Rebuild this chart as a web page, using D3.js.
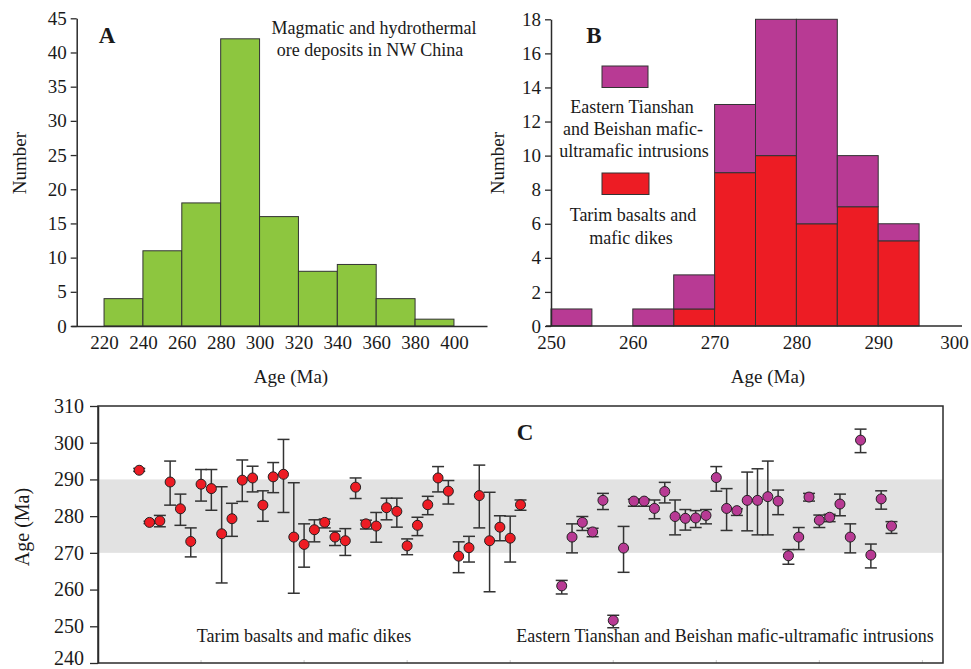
<!DOCTYPE html>
<html><head><meta charset="utf-8">
<script src="https://cdn.jsdelivr.net/npm/d3@7"></script>
<style>
html,body{margin:0;padding:0;background:#fff;}
svg{display:block;font-family:"Liberation Serif","Times New Roman",serif;}
</style></head>
<body>
<svg id="c" width="971" height="669"></svg>
<script>
// ---------- Data ----------
// Panel A: histogram of ore deposit ages
const binsA = [220, 240, 260, 280, 300, 320, 340, 360, 380];
const countsA = [4, 11, 18, 42, 16, 8, 9, 4, 1];
const ticksAx = [220, 240, 260, 280, 300, 320, 340, 360, 380, 400];
const ticksAy = [0, 5, 10, 15, 20, 25, 30, 35, 40, 45];

// Panel B: stacked histogram (5 Ma bins)
const binsB = [250, 255, 260, 265, 270, 275, 280, 285, 290];
const tarimCounts = [0, 0, 0, 1, 9, 10, 6, 7, 5];
const easternCounts = [1, 0, 1, 2, 4, 8, 12, 3, 1];
const ticksBx = [250, 260, 270, 280, 290, 300];
const ticksBy = [0, 2, 4, 6, 8, 10, 12, 14, 16, 18];

// Panel C: individual ages with error bars
const tarimAge  = [292.5,278.3,278.7,289.3,282.0,273.1,288.7,287.5,275.2,279.3,289.8,290.4,283.0,290.7,291.4,274.3,272.3,276.3,278.3,274.3,273.3,287.9,277.9,277.3,282.3,281.3,271.9,277.5,283.1,290.4,286.8,269.1,271.4,285.6,273.3,277.0,274.0,283.1];
const tarimHigh = [293.0,278.6,280.2,295.0,286.0,276.8,292.7,292.7,288.0,283.5,295.3,293.6,286.9,294.6,300.9,289.1,277.9,279.0,279.2,275.9,276.6,290.4,278.9,281.0,284.9,284.9,273.8,279.7,285.4,293.5,289.7,273.0,274.5,293.9,286.5,280.1,280.0,284.4];
const tarimLow  = [292.2,278.0,277.1,283.0,277.5,268.9,284.1,281.6,261.8,274.5,284.0,286.6,278.6,286.4,281.0,259.0,266.1,273.0,276.8,272.0,269.3,284.8,276.5,272.9,279.0,277.0,269.5,274.7,280.4,286.6,283.3,264.6,267.5,276.8,259.4,273.3,267.5,281.6];

const eastAge  = [261.0,274.3,278.3,275.7,284.3,251.6,271.3,284.1,284.1,282.1,286.7,279.9,279.4,279.5,280.2,290.5,282.1,281.5,284.3,284.3,285.3,284.1,269.2,274.3,285.2,278.9,279.7,283.3,274.3,300.7,269.4,284.7,277.3];
const eastHigh = [262.5,277.9,279.9,276.7,286.2,253.0,277.2,284.6,284.6,284.4,289.2,284.4,281.8,281.5,281.8,293.5,287.5,282.0,292.0,292.9,295.0,287.1,270.9,276.9,286.2,280.3,280.5,286.0,277.9,303.7,272.4,286.9,278.5];
const eastLow  = [258.8,270.0,276.1,274.4,281.8,249.6,264.7,282.7,282.7,279.3,283.6,274.9,276.2,276.9,277.9,286.8,276.1,280.2,276.0,274.9,274.9,280.4,266.9,270.9,284.1,276.9,278.5,280.1,270.0,297.3,265.9,281.9,275.3];
const eastStart = 41; // sample index of first eastern point
const ticksCy = [240, 250, 260, 270, 280, 290, 300, 310];
const bandC = [270, 290];

// ---------- Styles ----------
const GREEN = "#8dc63f", PURPLE = "#b83a94", RED = "#ed1c24", AX = "#2b2b2b";
const svg = d3.select("#c");

function styleAxis(g, size) {
  g.selectAll("text").attr("font-family", '"Liberation Serif","Times New Roman",serif')
    .attr("font-size", size).attr("fill", "#1a1a1a");
  g.selectAll("line").attr("stroke", AX).attr("stroke-width", 1.3);
  g.selectAll("path.domain").attr("stroke", AX).attr("stroke-width", 1.5);
}
function txt(x, y, s, size, opts = {}) {
  const t = svg.append("text").attr("x", x).attr("y", y).text(s)
    .attr("font-size", size).attr("fill", "#1a1a1a")
    .attr("text-anchor", opts.anchor || "middle");
  if (opts.bold) t.attr("font-weight", "bold");
  if (opts.rotate) t.attr("transform", `rotate(-90,${x},${y})`);
  return t;
}

// ---------- Panel A ----------
const xA = d3.scaleLinear().domain([203, 417]).range([71, 487]);
const yA = d3.scaleLinear().domain([0, 45]).range([326, 18.3]);
svg.append("g").selectAll("rect").data(binsA).join("rect")
  .attr("x", d => xA(d)).attr("width", d => xA(d + 20) - xA(d))
  .attr("y", (d, i) => yA(countsA[i])).attr("height", (d, i) => yA(0) - yA(countsA[i]))
  .attr("fill", GREEN).attr("stroke", "#333").attr("stroke-width", 1);
const axAx = svg.append("g").attr("transform", "translate(0,326)")
  .call(d3.axisBottom(xA).tickValues(ticksAx).tickSize(0).tickSizeOuter(0).tickPadding(10).tickFormat(d3.format("d")));
styleAxis(axAx, 19);
const axAy = svg.append("g").attr("transform", "translate(76.7,0)")
  .call(d3.axisLeft(yA).tickValues(ticksAy).tickSize(6).tickSizeOuter(0).tickPadding(4));
styleAxis(axAy, 19);
txt(107, 43, "A", 23, {bold: true});
txt(374, 34, "Magmatic and hydrothermal", 18);
txt(370, 56, "ore deposits in NW China", 18);
txt(26, 163, "Number", 19, {rotate: true});
txt(291, 383, "Age (Ma)", 19);

// ---------- Panel B ----------
const xB = d3.scaleLinear().domain([250, 300]).range([551, 960]);
const yB = d3.scaleLinear().domain([0, 18]).range([326, 19.3]);
const gB = svg.append("g");
gB.selectAll("rect.r").data(binsB).join("rect").attr("class", "r")
  .attr("x", d => xB(d)).attr("width", d => xB(d + 5) - xB(d))
  .attr("y", (d, i) => yB(tarimCounts[i])).attr("height", (d, i) => yB(0) - yB(tarimCounts[i]))
  .attr("fill", RED).attr("stroke", "#333").attr("stroke-width", 1)
  .style("display", (d, i) => tarimCounts[i] ? null : "none");
gB.selectAll("rect.p").data(binsB).join("rect").attr("class", "p")
  .attr("x", d => xB(d)).attr("width", d => xB(d + 5) - xB(d))
  .attr("y", (d, i) => yB(tarimCounts[i] + easternCounts[i]))
  .attr("height", (d, i) => yB(tarimCounts[i]) - yB(tarimCounts[i] + easternCounts[i]))
  .attr("fill", PURPLE).attr("stroke", "#333").attr("stroke-width", 1)
  .style("display", (d, i) => easternCounts[i] ? null : "none");
const axBx = svg.append("g").attr("transform", "translate(0,326)")
  .call(d3.axisBottom(xB).tickValues(ticksBx).tickSize(0).tickSizeOuter(0).tickPadding(10).tickFormat(d3.format("d")));
axBx.select("path.domain").remove();
axBx.append("line").attr("x1", 546).attr("x2", 962).attr("y1", 0).attr("y2", 0);
styleAxis(axBx, 19);
axBx.selectAll(".tick").filter(d => d === 300).select("text").attr("dx", -6);
const axBy = svg.append("g").attr("transform", "translate(551,0)")
  .call(d3.axisLeft(yB).tickValues(ticksBy).tickSize(6).tickSizeOuter(0).tickPadding(4));
styleAxis(axBy, 19);
txt(594, 43, "B", 23, {bold: true});
// legend
svg.append("rect").attr("x", 602).attr("y", 66).attr("width", 46).attr("height", 21.5)
  .attr("fill", PURPLE).attr("stroke", "#333").attr("stroke-width", 1);
txt(632, 113, "Eastern Tianshan", 18);
txt(633, 135, "and Beishan mafic-", 18);
txt(634, 156.5, "ultramafic intrusions", 18);
svg.append("rect").attr("x", 602).attr("y", 173).attr("width", 47).attr("height", 21.5)
  .attr("fill", RED).attr("stroke", "#333").attr("stroke-width", 1);
txt(633, 221, "Tarim basalts and", 18);
txt(631, 244, "mafic dikes", 18);
txt(504, 163, "Number", 19, {rotate: true});
txt(768, 383, "Age (Ma)", 19);

// ---------- Panel C ----------
const xC = d3.scaleLinear().domain([-4, 78]).range([98, 943]);
const yC = d3.scaleLinear().domain([240, 310]).range([663, 406]);
svg.append("rect").attr("x", xC(-4)).attr("width", xC(78) - xC(-4))
  .attr("y", yC(bandC[1])).attr("height", yC(bandC[0]) - yC(bandC[1])).attr("fill", "#e2e2e2");
// faint bottom ticks
svg.append("g").selectAll("line").data(d3.range(6, 78, 10)).join("line")
  .attr("x1", d => xC(d)).attr("x2", d => xC(d)).attr("y1", 663).attr("y2", 660)
  .attr("stroke", "#c8c8c8").attr("stroke-width", 1);
svg.append("rect").attr("x", xC(-4)).attr("y", yC(310))
  .attr("width", xC(78) - xC(-4)).attr("height", yC(240) - yC(310))
  .attr("fill", "none").attr("stroke", AX).attr("stroke-width", 1.5);
const axCy = svg.append("g").attr("transform", "translate(98,0)")
  .call(d3.axisLeft(yC).tickValues(ticksCy).tickSize(8).tickSizeOuter(0).tickPadding(6));
styleAxis(axCy, 20);
// keep the lowest label inside the canvas
axCy.selectAll(".tick").filter(d => d === 240).select("text").attr("dy", "0.05em");

function drawSeries(ages, highs, lows, start, color) {
  const pts = ages.map((a, i) => ({i: start + i, a, h: highs[i], l: lows[i]}));
  const g = svg.append("g");
  const eb = g.selectAll("g").data(pts).join("g").attr("stroke", "#333").attr("stroke-width", 1.5);
  eb.append("line").attr("x1", d => xC(d.i)).attr("x2", d => xC(d.i)).attr("y1", d => yC(d.h)).attr("y2", d => yC(d.l));
  eb.append("line").attr("x1", d => xC(d.i) - 6).attr("x2", d => xC(d.i) + 6).attr("y1", d => yC(d.h)).attr("y2", d => yC(d.h));
  eb.append("line").attr("x1", d => xC(d.i) - 6).attr("x2", d => xC(d.i) + 6).attr("y1", d => yC(d.l)).attr("y2", d => yC(d.l));
  g.selectAll("circle").data(pts).join("circle")
    .attr("cx", d => xC(d.i)).attr("cy", d => yC(d.a)).attr("r", 5)
    .attr("fill", color).attr("stroke", "#222").attr("stroke-width", 1);
}
drawSeries(tarimAge, tarimHigh, tarimLow, 0, RED);
drawSeries(eastAge, eastHigh, eastLow, eastStart, PURPLE);

txt(525, 440, "C", 23, {bold: true});
txt(304, 642, "Tarim basalts and mafic dikes", 18);
txt(725, 642, "Eastern Tianshan and Beishan mafic-ultramafic intrusions", 18);
txt(29, 527, "Age (Ma)", 20, {rotate: true});
</script>
</body></html>
